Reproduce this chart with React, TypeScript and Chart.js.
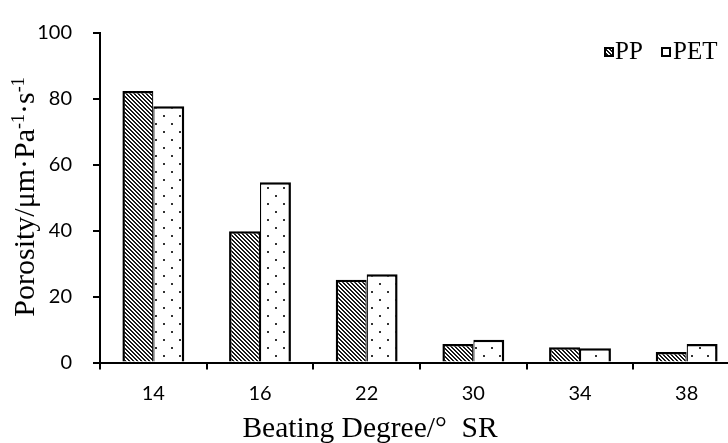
import React, { useEffect, useRef } from 'react';
import { Chart, registerables } from 'chart.js';

Chart.register(...registerables);

// Beating degree categories (°SR) and porosity readings for each fibre
const categories = ['14', '16', '22', '30', '34', '38'];
const ppValues = [82.4, 39.8, 25.1, 5.6, 4.6, 3.2];
const petValues = [77.8, 54.7, 26.8, 6.9, 4.3, 5.6];
const seriesNames = ['PP', 'PET'];
const yTickValues = [0, 20, 40, 60, 80, 100];

const xTitle = 'Beating Degree/°  SR';
const yTitleParts = [
  { text: 'Porosity/μm·Pa', sup: false },
  { text: '-1', sup: true },
  { text: '·s', sup: false },
  { text: '-1', sup: true },
];

const SERIF = '"Liberation Serif", "Times New Roman", serif';
const SANS = 'Lato, "Open Sans", sans-serif';

// Dark downward diagonal hatch
function makeHatch(): CanvasPattern | string {
  const c = document.createElement('canvas');
  c.width = 8;
  c.height = 8;
  const g = c.getContext('2d');
  if (!g) return '#888';
  g.fillStyle = '#ffffff';
  g.fillRect(0, 0, 8, 8);
  g.fillStyle = '#1a1a1a';
  for (let y = 0; y < 8; y++) {
    for (let x = 0; x < 8; x++) {
      const d = (((x - y) % 4) + 4) % 4;
      if (d < 2) g.fillRect(x, y, 1, 1);
    }
  }
  return g.createPattern(c, 'repeat') || '#888';
}

// Sparse staggered dots
function makeDots(): CanvasPattern | string {
  const c = document.createElement('canvas');
  c.width = 16;
  c.height = 16;
  const g = c.getContext('2d');
  if (!g) return '#fff';
  g.fillStyle = '#ffffff';
  g.fillRect(0, 0, 16, 16);
  g.fillStyle = '#333333';
  g.fillRect(3, 3, 2, 2);
  g.fillRect(11, 11, 2, 2);
  return g.createPattern(c, 'repeat') || '#fff';
}

const annotations = {
  id: 'annotations',
  afterDraw(chart: any) {
    const ctx: CanvasRenderingContext2D = chart.ctx;
    ctx.save();
    ctx.fillStyle = '#000';

    // x-axis title
    ctx.font = `29.5px ${SERIF}`;
    ctx.textAlign = 'center';
    ctx.textBaseline = 'alphabetic';
    ctx.fillText(xTitle, 370, 437);

    // y-axis title with superscripts, rotated
    const mainFont = `30px ${SERIF}`;
    const supFont = `18px ${SERIF}`;
    let total = 0;
    for (const p of yTitleParts) {
      ctx.font = p.sup ? supFont : mainFont;
      total += ctx.measureText(p.text).width;
    }
    ctx.save();
    ctx.translate(34, 197 + total / 2);
    ctx.rotate(-Math.PI / 2);
    ctx.textAlign = 'left';
    let cx = 0;
    for (const p of yTitleParts) {
      ctx.font = p.sup ? supFont : mainFont;
      ctx.fillText(p.text, cx, p.sup ? -10 : 0);
      cx += ctx.measureText(p.text).width;
    }
    ctx.restore();

    // legend
    const items = [
      { box: 604, text: 615 },
      { box: 661, text: 673 },
    ];
    chart.data.datasets.forEach((ds: any, i: number) => {
      const it = items[i];
      ctx.fillStyle = ds.backgroundColor;
      ctx.fillRect(it.box, 47, 10, 10);
      ctx.strokeStyle = '#000';
      ctx.lineWidth = 2;
      ctx.strokeRect(it.box + 1, 48, 8, 8);
      ctx.fillStyle = '#000';
      ctx.font = `25px ${SERIF}`;
      ctx.textAlign = 'left';
      ctx.textBaseline = 'alphabetic';
      ctx.fillText(ds.label, it.text, 59);
    });
    ctx.restore();
  },
};

export default function App() {
  const ref = useRef<HTMLCanvasElement | null>(null);

  useEffect(() => {
    if (!ref.current) return;
    const chart = new Chart(ref.current, {
      type: 'bar',
      data: {
        labels: categories,
        datasets: [
          {
            label: seriesNames[0],
            data: ppValues,
            backgroundColor: makeHatch() as any,
            borderColor: '#000',
            borderWidth: { top: 2.5, left: 2.5, right: 1.25, bottom: 0 },
            categoryPercentage: 0.58,
            barPercentage: 1,
          },
          {
            label: seriesNames[1],
            data: petValues,
            backgroundColor: makeDots() as any,
            borderColor: '#000',
            borderWidth: { top: 2.5, left: 1.25, right: 2.5, bottom: 0 },
            categoryPercentage: 0.58,
            barPercentage: 1,
          },
        ],
      },
      options: {
        animation: false,
        responsive: true,
        maintainAspectRatio: false,
        layout: { padding: { top: 21, left: 0, right: 0, bottom: 0 } },
        plugins: {
          legend: { display: false },
          tooltip: { enabled: false },
        },
        scales: {
          x: {
            offset: true,
            grid: {
              display: true,
              offset: true,
              drawOnChartArea: false,
              drawTicks: true,
              tickLength: 7,
              color: '#000',
              lineWidth: 2,
            },
            border: { display: true, color: '#000', width: 2 },
            ticks: {
              color: '#000',
              font: { family: SANS, size: 20 },
              padding: 12,
              maxRotation: 0,
            },
            afterFit: (s: any) => {
              s.height = 80.5;
            },
          },
          y: {
            min: 0,
            max: 100,
            grid: {
              drawOnChartArea: false,
              drawTicks: true,
              tickLength: 7,
              color: '#000',
              lineWidth: 2,
            },
            border: { display: true, color: '#000', width: 2 },
            ticks: {
              color: '#000',
              font: { family: SANS, size: 20 },
              padding: 21,
            },
            afterBuildTicks: (s: any) => {
              s.ticks = yTickValues.map((v) => ({ value: v }));
            },
            afterFit: (s: any) => {
              s.width = 100;
            },
          },
        },
      },
      plugins: [annotations],
    });
    return () => chart.destroy();
  }, []);

  return (
    <div
      style={{
        position: 'fixed',
        left: 0,
        top: 0,
        width: 728,
        height: 443,
        overflow: 'hidden',
        background: '#fff',
      }}
    >
      <div style={{ position: 'relative', width: 740, height: 443 }}>
        <canvas ref={ref} />
      </div>
    </div>
  );
}
